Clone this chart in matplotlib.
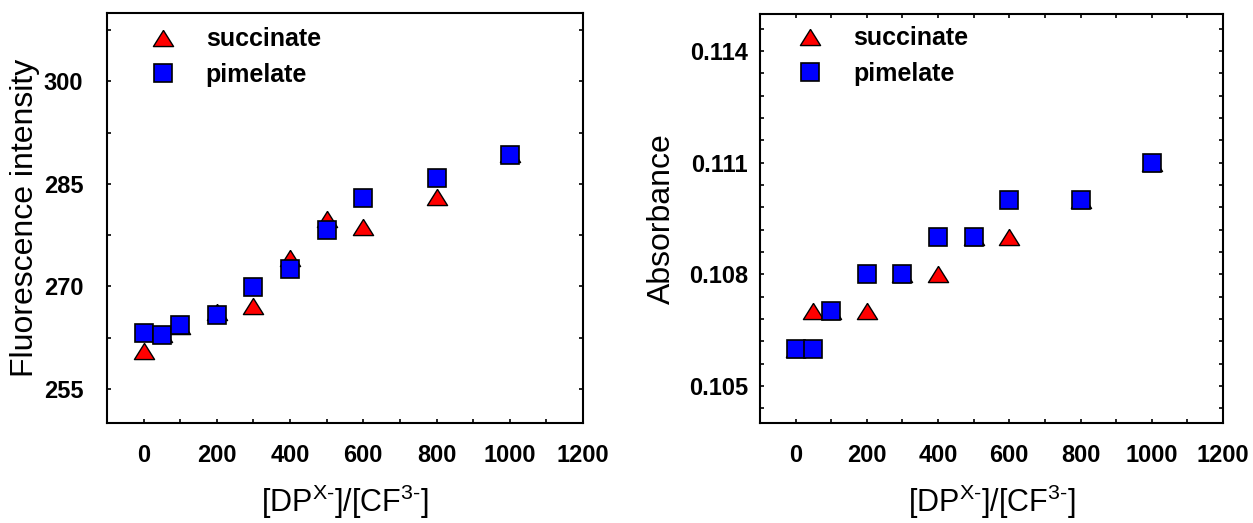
import matplotlib
matplotlib.use("Agg")
import matplotlib.pyplot as plt
from matplotlib.ticker import MultipleLocator

plt.rcParams['font.family'] = ['Liberation Sans', 'DejaVu Sans']
plt.rcParams['mathtext.fontset'] = 'custom'
plt.rcParams['mathtext.rm'] = 'Liberation Sans'
plt.rcParams['mathtext.default'] = 'regular'

# ratio [DP^x-]/[CF^3-]
ratio = [0, 50, 100, 200, 300, 400, 500, 600, 800, 1000]

# fluorescence intensity
fl_succinate = [260.5, 263.0, 264.2, 266.3, 267.1, 274.2, 279.8, 278.7, 283.1, 289.3]
fl_pimelate = [263.1, 262.9, 264.3, 265.8, 269.9, 272.5, 278.2, 283.0, 285.9, 289.2]

# absorbance
ab_succinate = [0.106, 0.107, 0.107, 0.107, 0.108, 0.108, 0.109, 0.109, 0.110, 0.111]
ab_pimelate = [0.106, 0.106, 0.107, 0.108, 0.108, 0.109, 0.109, 0.110, 0.110, 0.111]

xticks = [0, 200, 400, 600, 800, 1000, 1200]
fl_ticks = [255, 270, 285, 300]
ab_ticks = [0.105, 0.108, 0.111, 0.114]

tri = [(0, 0.8), (-1, -0.8), (1, -0.8), (0, 0.8)]
hy = '\u2010'
xlabel = '[DP$^{X' + hy + '}$]/[CF$^{3' + hy + '}$]'

fig = plt.figure(figsize=(12.53, 5.23), dpi=100)
W, H = 1253, 523
ax1 = fig.add_axes([107 / W, (H - 423) / H, (583 - 107) / W, (423 - 13) / H])
ax2 = fig.add_axes([760 / W, (H - 423) / H, (1223 - 760) / W, (423 - 14) / H])


def panel(ax, ys, yp, yticks, ylim, minor, ylabel, fmt, ylab_x, leg_xy,
          ypad, top):
    ax.plot(ratio, ys, linestyle='none', marker=tri, markersize=14.5,
            markerfacecolor='#ff0000', markeredgecolor='black',
            markeredgewidth=1.0, label='succinate')
    ax.plot(ratio, yp, linestyle='none', marker='s', markersize=12.5,
            markerfacecolor='#0000ff', markeredgecolor='black',
            markeredgewidth=1.2, label='pimelate')
    ax.set_xlim(-100, 1200)
    ax.set_ylim(*ylim)
    ax.set_xticks(xticks)
    ax.set_xticklabels([str(v) for v in xticks])
    ax.xaxis.set_minor_locator(MultipleLocator(100))
    ax.set_yticks(yticks)
    ax.set_yticklabels([fmt.format(v) for v in yticks])
    ax.yaxis.set_minor_locator(MultipleLocator(minor))
    ax.tick_params(which='both', direction='in', top=top, right=True,
                   width=1.2, length=3, labelsize=17)
    ax.tick_params(axis='x', which='both', pad=15)
    ax.tick_params(axis='y', which='both', pad=ypad)
    for lab in ax.get_xticklabels() + ax.get_yticklabels():
        lab.set_fontweight('bold')
    for sp in ax.spines.values():
        sp.set_linewidth(1.5)
    ax.set_ylabel(ylabel, fontsize=23)
    ax.yaxis.set_label_coords(ylab_x, 0.5)
    ax.set_xlabel(xlabel, fontsize=22)
    ax.xaxis.set_label_coords(0.5, -0.145)
    ax.legend(loc='upper left', bbox_to_anchor=leg_xy, frameon=False,
              borderpad=0, borderaxespad=0, handlelength=1.0,
              handletextpad=1.2, labelspacing=0.45,
              prop={'size': 18, 'weight': 'bold'})


panel(ax1, fl_succinate, fl_pimelate, fl_ticks, (250, 310), 7.5,
      'Fluorescence intensity', '{:d}', -0.14, (0.092, 0.965), 17, False)
panel(ax2, ab_succinate, ab_pimelate, ab_ticks, (0.104, 0.115), 0.0006,
      'Absorbance', '{:.3f}', -0.18, (0.082, 0.97), 8.5, True)

fig.savefig('out.png', dpi=100)
